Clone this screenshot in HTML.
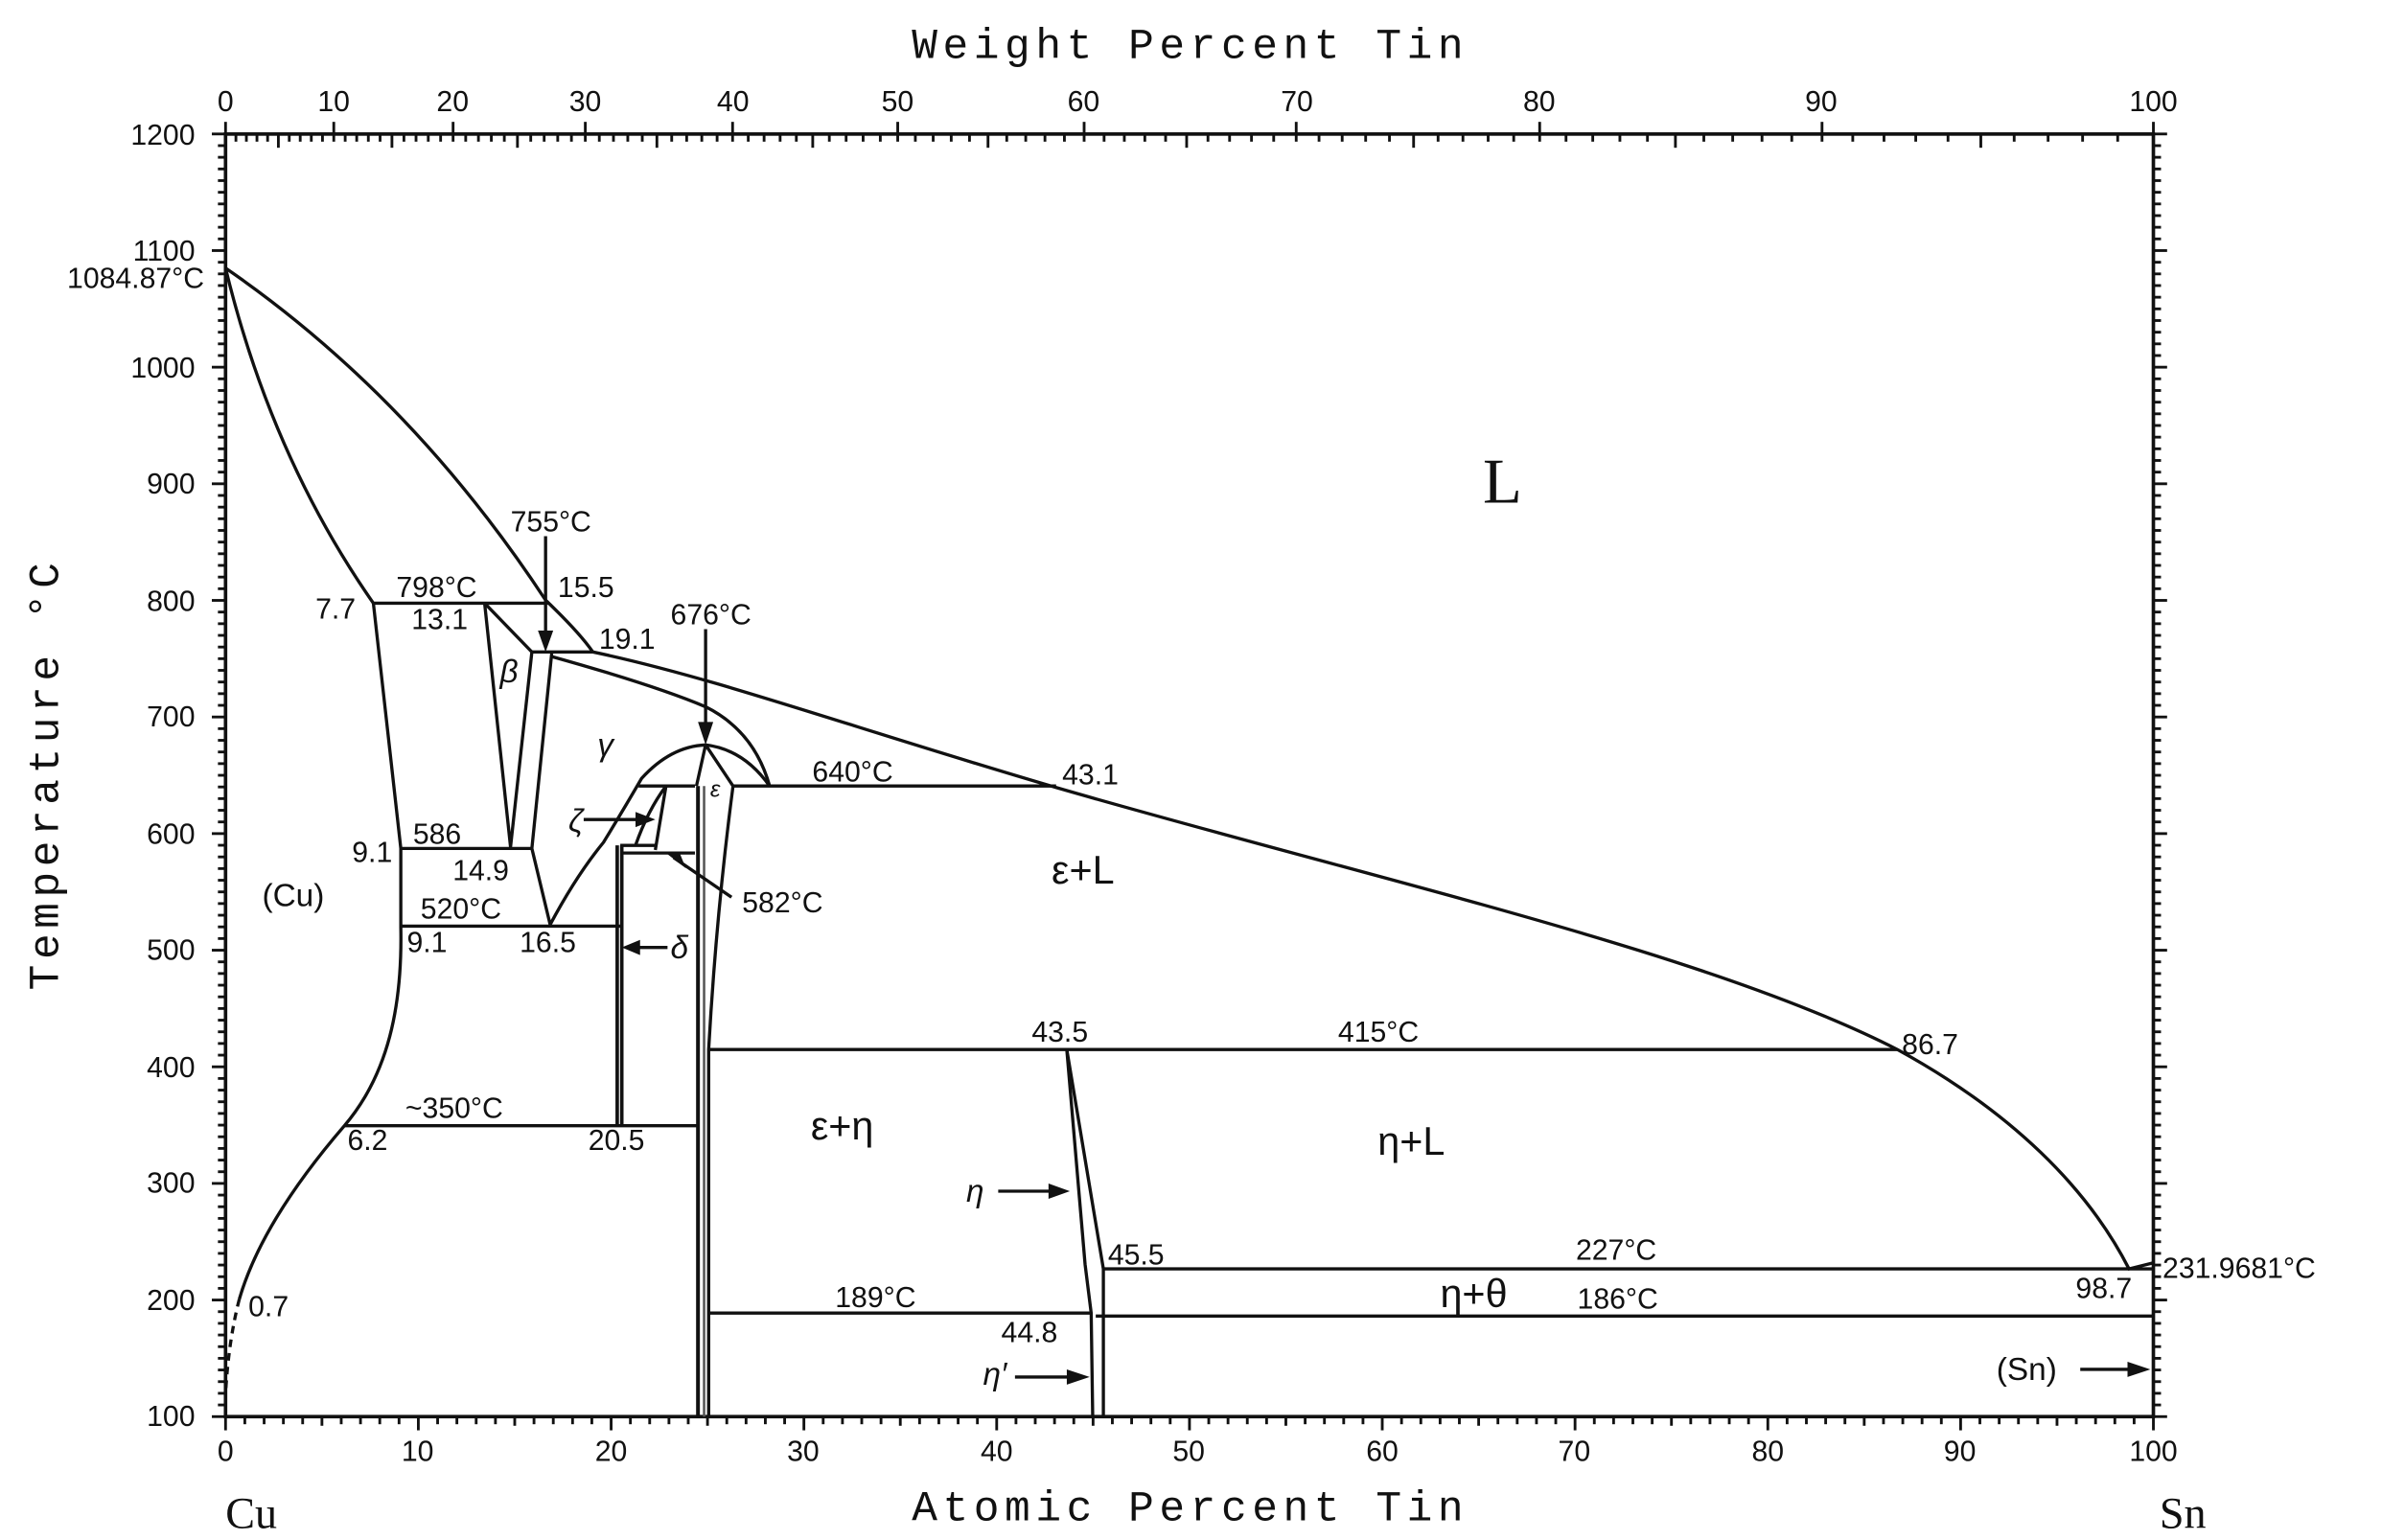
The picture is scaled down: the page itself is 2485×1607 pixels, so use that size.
<!DOCTYPE html>
<html><head><meta charset="utf-8"><style>
html,body{margin:0;padding:0;background:#fff;}
svg{display:block}
text{font-family:"Liberation Sans",sans-serif;fill:#111;}
.t{font-size:19px}
.m{font-family:"Liberation Mono",monospace;font-size:28px;letter-spacing:3.5px}
.s{font-family:"Liberation Serif",serif}
</style></head><body>
<svg id="c" xmlns="http://www.w3.org/2000/svg" width="2485" height="1607" viewBox="0 0 1563 1011" preserveAspectRatio="none">
<rect width="1563" height="1011" fill="#fff"/>
<g id="ticks" stroke="#111" stroke-width="1.8"></g>
<g fill="none" stroke="#111" stroke-width="2.1">
<rect x="148" y="88" width="1265" height="842" stroke-width="2.3"/>
<path d="M148,176 Q270,260 358,394 Q380,415 389,428"/>
<path d="M148,176 Q178,300 245,396"/>
<path d="M389,428 C470,445 560,478 693,517 C900,577 1120,625 1245,689 C1320,730 1370,780 1397,833 L1413,829"/>
<path d="M245,396 L360,396"/>
<path d="M245,396 L263,557 L263,609 C264,660 255,705 226,739 C195,775 168,815 157,853"/>
<path d="M157,853 Q150,880 148,915" stroke-dasharray="5,4"/>
<path d="M318,396 L335,556 L349,428 L318,396"/>
<path d="M263,557 L349,557"/>
<path d="M349,428 L389,428"/>
<path d="M362,429 L349,557 L361,607"/>
<path d="M263,608 L407,608"/>
<path d="M361,607 Q378,575 396,553 Q410,530 421,511 Q440,490 463,489 Q488,492 505,516"/>
<path d="M362,431 Q430,450 463,464 Q495,480 505,516"/>
<path d="M463,489 L457,516 M463,489 L481,516"/>
<path d="M419,516 L456,516 M481,516 L693,516"/>
<path d="M437,516 L430,558 M417,555 Q425,532 437,516"/>
<path d="M407,555 L430,555"/>
<path d="M407,560 L456,560"/>
<path d="M405,555 L405,739 M408,555 L408,739" stroke-width="2.3"/>
<path d="M458,516 L458,930" stroke-width="2.5"/>
<path d="M462,516 L462,930" stroke-width="1.6" stroke="#555"/>
<path d="M481,516 Q470,600 465,689 L465,930"/>
<path d="M226,739 L458,739"/>
<path d="M465,689 L1245,689"/>
<path d="M700,689 L712,830 L716,862 L717,930"/>
<path d="M700,689 L724,833 L724,930"/>
<path d="M724,833 L1413,833"/>
<path d="M465,862 L716,862"/>
<path d="M719,864 L1413,864"/>
<path d="M358,352 L358,420"/>
<path d="M463,413 L463,482"/>
<path d="M383,538 L422,538"/>
<path d="M480,589 L442,563"/>
<path d="M438,622 L414,622"/>
<path d="M655,782 L694,782"/>
<path d="M666,904 L708,904"/>
<path d="M1365,899 L1400,899"/>
</g>
<g fill="#111">
<polygon points="353,414 363,414 358,428"/>
<polygon points="458,474 468,474 463,489"/>
<polygon points="417,533 417,543 430,538"/>
<polygon points="446,560 450,570 437,560"/>
<polygon points="420,617 420,627 408,622"/>
<polygon points="688,777 688,787 702,782"/>
<polygon points="700,899 700,909 715,904"/>
<polygon points="1396,894 1396,904 1411,899"/>
</g>
<g class="t" text-anchor="end">
<text x="128" y="95">1200</text><text x="128" y="171">1100</text><text x="128" y="248">1000</text>
<text x="128" y="324">900</text><text x="128" y="401">800</text><text x="128" y="477">700</text>
<text x="128" y="554">600</text><text x="128" y="630">500</text><text x="128" y="707">400</text>
<text x="128" y="783">300</text><text x="128" y="860">200</text><text x="128" y="936">100</text>
<text x="134" y="189">1084.87°C</text>
</g>
<g class="t" text-anchor="middle">
<text x="148" y="959">0</text><text x="274" y="959">10</text><text x="401" y="959">20</text><text x="527" y="959">30</text>
<text x="654" y="959">40</text><text x="780" y="959">50</text><text x="907" y="959">60</text><text x="1033" y="959">70</text>
<text x="1160" y="959">80</text><text x="1286" y="959">90</text><text x="1413" y="959">100</text>
<text x="148" y="73">0</text><text x="219" y="73">10</text><text x="297" y="73">20</text><text x="384" y="73">30</text>
<text x="481" y="73">40</text><text x="589" y="73">50</text><text x="711" y="73">60</text><text x="851" y="73">70</text>
<text x="1010" y="73">80</text><text x="1195" y="73">90</text><text x="1413" y="73">100</text>
</g>
<text class="m" x="781" y="38" text-anchor="middle">Weight Percent Tin</text>
<text class="m" x="781" y="998" text-anchor="middle">Atomic Percent Tin</text>
<text class="m" transform="translate(38,508) rotate(-90)" text-anchor="middle">Temperature °C</text>
<text class="s" x="148" y="1003" font-size="29">Cu</text>
<text class="s" x="1417" y="1003" font-size="29">Sn</text>
<text class="s" x="973" y="330" font-size="42">L</text>
<g class="t">
<text x="335" y="349">755°C</text><text x="260" y="392">798°C</text><text x="366" y="392">15.5</text>
<text x="270" y="413">13.1</text><text x="207" y="406">7.7</text><text x="393" y="426">19.1</text>
<text x="440" y="410">676°C</text><text x="533" y="513">640°C</text><text x="697" y="515">43.1</text>
<text x="231" y="566">9.1</text><text x="271" y="554">586</text><text x="297" y="578">14.9</text>
<text x="487" y="599">582°C</text><text x="276" y="603">520°C</text><text x="267" y="625">9.1</text>
<text x="341" y="625">16.5</text><text x="677" y="684">43.5</text><text x="878" y="684">415°C</text>
<text x="1248" y="692">86.7</text><text x="266" y="734">~350°C</text><text x="228" y="755">6.2</text>
<text x="386" y="755">20.5</text><text x="727" y="830">45.5</text><text x="1034" y="827">227°C</text>
<text x="1419" y="839">231.9681°C</text><text x="1362" y="852">98.7</text><text x="1035" y="859">186°C</text>
<text x="548" y="858">189°C</text><text x="163" y="864">0.7</text><text x="657" y="881">44.8</text>
</g>
<g class="s" font-size="21">
<text x="172" y="595">(Cu)</text><text x="1310" y="906">(Sn)</text>
<text x="328" y="448" font-style="italic">β</text><text x="392" y="496" font-style="italic">γ</text>
<text x="466" y="523" font-size="15" font-style="italic">ε</text><text x="373" y="546" font-style="italic">ζ</text>
<text x="440" y="629" font-style="italic">δ</text><text x="634" y="789" font-style="italic">η</text>
<text x="645" y="909" font-style="italic">η′</text>
</g>
<g class="s" font-size="26">
<text x="690" y="580">ε+L</text><text x="532" y="748">ε+η</text><text x="904" y="758">η+L</text><text x="945" y="858">η+θ</text>
</g>
</svg>
<script>
(function(){
var g=document.getElementById('ticks'),h='';
function L(a,b,c,d){h+='<line x1="'+a+'" y1="'+b+'" x2="'+c+'" y2="'+d+'"/>';}
function X(a){return 148+12.65*a;}
function Y(t){return 930-(t-100)*0.7655;}
for(var a=0;a<=100;a++){var x=X(a),l=a%10==0?9:a%5==0?6:5;L(x,930,x,930+l);}
for(var t=100;t<=1200;t+=10){var y=Y(t),l=t%100==0?9:5;L(148,y,148-l,y);L(1413,y,1413+l,y);}
for(var w=0;w<=100;w++){var s=w/118.71,c=(100-w)/63.546,a=100*s/(s+c),x=X(a);
 if(w%10==0)L(x,88,x,80);
 L(x,88,x,88+(w%5==0&&w%10!=0?9:5));}
g.innerHTML=h;
})();
</script>
</body></html>
